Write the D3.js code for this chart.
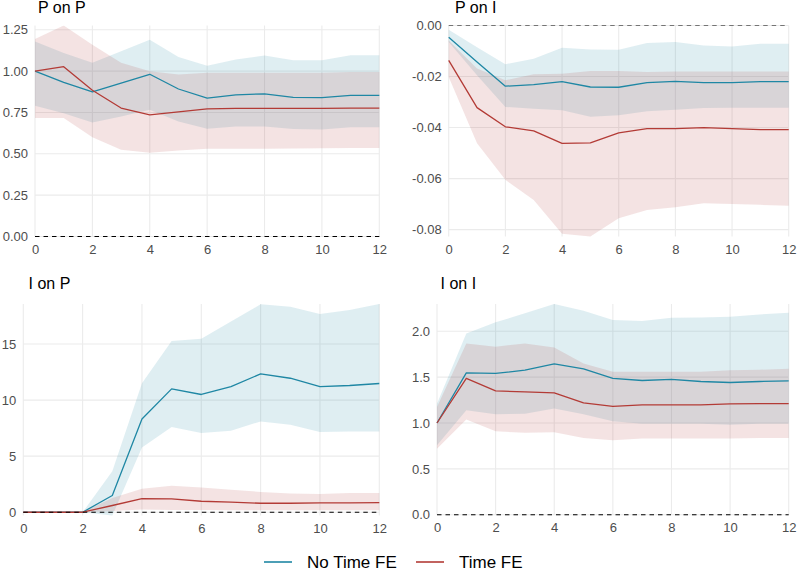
<!DOCTYPE html>
<html>
<head>
<meta charset="utf-8">
<script src="https://cdn.jsdelivr.net/npm/d3@7"></script>
<style>
  html, body { margin: 0; padding: 0; background: #ffffff; }
  svg { display: block; font-family: "Liberation Sans", Arial, Helvetica, sans-serif; }
</style>
</head>
<body>
<svg id="chart" width="797" height="571"></svg>
<script>
// ---------------- data ----------------
const horizons = [0, 1, 2, 3, 4, 5, 6, 7, 8, 9, 10, 11, 12];
const seriesNames = ["No Time FE", "Time FE"];
const panelTitles = ["P on P", "P on I", "I on P", "I on I"];
const xTicks = [0, 2, 4, 6, 8, 10, 12];
const xTickLabels = ["0", "2", "4", "6", "8", "10", "12"];

// P on P
const ppNoFE   = [1.000, 0.932, 0.874, 0.928, 0.981, 0.892, 0.837, 0.857, 0.863, 0.841, 0.840, 0.853, 0.853];
const ppNoFELo = [0.790, 0.746, 0.689, 0.726, 0.766, 0.695, 0.651, 0.665, 0.665, 0.650, 0.647, 0.660, 0.660];
const ppNoFEHi = [1.180, 1.110, 1.050, 1.120, 1.190, 1.086, 1.033, 1.070, 1.094, 1.066, 1.066, 1.096, 1.096];
const ppFE     = [1.000, 1.027, 0.884, 0.777, 0.736, 0.754, 0.772, 0.775, 0.775, 0.775, 0.775, 0.776, 0.776];
const ppFELo   = [0.716, 0.716, 0.600, 0.524, 0.507, 0.520, 0.530, 0.530, 0.530, 0.532, 0.533, 0.535, 0.535];
const ppFEHi   = [1.195, 1.276, 1.160, 1.050, 1.000, 0.980, 0.990, 0.990, 0.990, 0.990, 0.990, 0.995, 0.995];
const ppYTicks = [0, 0.25, 0.5, 0.75, 1.0, 1.25];
const ppYTickLabels = ["0.00", "0.25", "0.50", "0.75", "1.00", "1.25"];

// P on I
const piNoFE   = [-0.0046, -0.0143, -0.0238, -0.0232, -0.0220, -0.0241, -0.0242, -0.0224, -0.0219, -0.0224, -0.0224, -0.0220, -0.0220];
const piNoFELo = [-0.0065, -0.0195, -0.0319, -0.0326, -0.0332, -0.0358, -0.0352, -0.0336, -0.0330, -0.0323, -0.0322, -0.0322, -0.0322];
const piNoFEHi = [-0.0017, -0.0085, -0.0152, -0.0130, -0.0087, -0.0094, -0.0095, -0.0069, -0.0065, -0.0078, -0.0082, -0.0072, -0.0072];
const piFE     = [-0.0137, -0.0322, -0.0397, -0.0413, -0.0462, -0.0460, -0.0421, -0.0404, -0.0404, -0.0400, -0.0404, -0.0408, -0.0408];
const piFELo   = [-0.0202, -0.0462, -0.0605, -0.0684, -0.0816, -0.0827, -0.0755, -0.0723, -0.0712, -0.0697, -0.0700, -0.0703, -0.0706];
const piFEHi   = [-0.0059, -0.0169, -0.0215, -0.0191, -0.0189, -0.0178, -0.0178, -0.0182, -0.0180, -0.0180, -0.0180, -0.0180, -0.0180];
const piYTicks = [0, -0.02, -0.04, -0.06, -0.08];
const piYTickLabels = ["0.00", "-0.02", "-0.04", "-0.06", "-0.08"];

// I on P
const ipNoFE   = [0, 0, 0, 1.49, 8.31, 11.00, 10.50, 11.20, 12.34, 11.95, 11.20, 11.30, 11.48];
const ipNoFELo = [0, 0, 0, -0.30, 5.78, 7.60, 7.06, 7.27, 8.10, 7.80, 7.15, 7.20, 7.20];
const ipNoFEHi = [0, 0, 0, 3.65, 11.50, 15.28, 15.48, 17.00, 18.54, 18.33, 17.68, 18.03, 18.57];
const ipFE     = [0, 0, 0, 0.60, 1.22, 1.20, 0.98, 0.90, 0.80, 0.80, 0.83, 0.84, 0.85];
const ipFELo   = [0, 0, 0, 0.10, 0.25, 0.20, 0.20, 0.18, 0.18, 0.18, 0.18, 0.18, 0.18];
const ipFEHi   = [0, 0, 0, 1.28, 2.10, 2.37, 2.20, 2.00, 1.81, 1.66, 1.63, 1.72, 1.72];
const ipYTicks = [0, 5, 10, 15];
const ipYTickLabels = ["0", "5", "10", "15"];

// I on I
const iiNoFE   = [1.000, 1.546, 1.540, 1.575, 1.644, 1.590, 1.485, 1.463, 1.474, 1.452, 1.441, 1.452, 1.459];
const iiNoFELo = [0.757, 1.139, 1.095, 1.100, 1.157, 1.095, 1.018, 0.993, 0.993, 0.993, 0.982, 0.993, 0.993];
const iiNoFEHi = [1.210, 1.976, 2.096, 2.194, 2.296, 2.222, 2.121, 2.110, 2.147, 2.150, 2.157, 2.183, 2.200];
const iiFE     = [1.000, 1.485, 1.350, 1.339, 1.328, 1.218, 1.182, 1.197, 1.197, 1.197, 1.208, 1.211, 1.211];
const iiFELo   = [0.720, 1.037, 0.909, 0.895, 0.900, 0.836, 0.811, 0.830, 0.830, 0.830, 0.830, 0.836, 0.836];
const iiFEHi   = [1.175, 1.867, 1.830, 1.867, 1.823, 1.648, 1.557, 1.557, 1.557, 1.557, 1.575, 1.580, 1.590];
const iiYTicks = [0, 0.5, 1.0, 1.5, 2.0];
const iiYTickLabels = ["0.0", "0.5", "1.0", "1.5", "2.0"];

// ---------------- styling / layout ----------------
const colors = { "No Time FE": "#1f87a4", "Time FE": "#b33b36" };
const ribbonOpacity = 0.14;

const panels = [
  { title: panelTitles[0], est: [ppNoFE, ppFE], lo: [ppNoFELo, ppFELo], hi: [ppNoFEHi, ppFEHi], yTicks: ppYTicks, yLabels: ppYTickLabels,
    left: 35, right: 379.3, top: 25.5, bottom: 236.5, titleX: 38, titleY: 13 },
  { title: panelTitles[1], est: [piNoFE, piFE], lo: [piNoFELo, piFELo], hi: [piNoFEHi, piFEHi], yTicks: piYTicks, yLabels: piYTickLabels,
    left: 448.7, right: 788.7, top: 25.5, bottom: 236.5, titleX: 455, titleY: 13 },
  { title: panelTitles[2], est: [ipNoFE, ipFE], lo: [ipNoFELo, ipFELo], hi: [ipNoFEHi, ipFEHi], yTicks: ipYTicks, yLabels: ipYTickLabels,
    left: 23.3, right: 379.3, top: 304, bottom: 515.6, titleX: 28.5, titleY: 289.3 },
  { title: panelTitles[3], est: [iiNoFE, iiFE], lo: [iiNoFELo, iiFELo], hi: [iiNoFEHi, iiFEHi], yTicks: iiYTicks, yLabels: iiYTickLabels,
    left: 437, right: 788.7, top: 304, bottom: 514.8, titleX: 440.5, titleY: 289.3 }
];

const svg = d3.select("#chart");
svg.append("rect").attr("width", 797).attr("height", 571).attr("fill", "#ffffff");

panels.forEach((p, pi) => {
  const allVals = [0].concat(...p.lo, ...p.hi, ...p.est);
  const x = d3.scaleLinear().domain(d3.extent(horizons)).range([p.left, p.right]);
  const y = d3.scaleLinear().domain(d3.extent(allVals)).range([p.bottom, p.top]);

  const g = svg.append("g");

  const clipId = "clip" + pi;
  svg.append("clipPath").attr("id", clipId).append("rect")
    .attr("x", p.left - 1).attr("y", p.top).attr("width", p.right - p.left + 2).attr("height", p.bottom - p.top + 1.5);

  // grid
  g.append("g").selectAll("line").data(xTicks).join("line")
    .attr("x1", d => x(d)).attr("x2", d => x(d))
    .attr("y1", p.top).attr("y2", p.bottom)
    .attr("stroke", "#ebebeb").attr("stroke-width", 1.1);
  g.append("g").selectAll("line").data(p.yTicks).join("line")
    .attr("x1", p.left).attr("x2", p.right)
    .attr("y1", d => y(d)).attr("y2", d => y(d))
    .attr("stroke", "#ebebeb").attr("stroke-width", 1.1);

  const plot = g.append("g").attr("clip-path", `url(#${clipId})`);

  // ribbons
  seriesNames.forEach((name, si) => {
    const area = d3.area()
      .x((d, i) => x(horizons[i]))
      .y0((d, i) => y(p.lo[si][i]))
      .y1((d, i) => y(p.hi[si][i]));
    plot.append("path").datum(horizons).attr("d", area)
      .attr("fill", colors[name]).attr("fill-opacity", ribbonOpacity).attr("stroke", "none");
  });
  // lines
  seriesNames.forEach((name, si) => {
    const line = d3.line().x((d, i) => x(horizons[i])).y((d, i) => y(p.est[si][i]));
    plot.append("path").datum(horizons).attr("d", line)
      .attr("fill", "none").attr("stroke", colors[name]).attr("stroke-width", 1.3)
      .attr("stroke-linejoin", "round");
  });
  // zero reference line
  plot.append("line")
    .attr("x1", p.left).attr("x2", p.right)
    .attr("y1", y(0)).attr("y2", y(0))
    .attr("stroke", "#000").attr("stroke-width", 1.1).attr("stroke-dasharray", "4.5,4");

  // axes
  const yAxis = d3.axisLeft(y).tickValues(p.yTicks)
    .tickFormat((d, i) => p.yLabels[i]).tickSize(0).tickPadding(7);
  const ya = g.append("g").attr("transform", `translate(${p.left},0)`).call(yAxis);
  const xAxis = d3.axisBottom(x).tickValues(xTicks)
    .tickFormat((d, i) => xTickLabels[i]).tickSize(0).tickPadding(8);
  const xa = g.append("g").attr("transform", `translate(0,${p.bottom})`).call(xAxis);
  [ya, xa].forEach(a => {
    a.select(".domain").remove();
    a.selectAll("text").attr("fill", "#4d4d4d").style("font-size", "13px")
      .style("font-family", '"Liberation Sans", Arial, sans-serif');
  });

  // title
  g.append("text").attr("x", p.titleX).attr("y", p.titleY)
    .attr("fill", "#000").style("font-size", "16px").text(p.title);
});

// legend
const legend = svg.append("g");
const legendItems = [
  { name: seriesNames[0], lx: 264, tx: 307 },
  { name: seriesNames[1], lx: 416, tx: 459 }
];
legendItems.forEach(it => {
  legend.append("line").attr("x1", it.lx).attr("x2", it.lx + 28)
    .attr("y1", 562).attr("y2", 562)
    .attr("stroke", colors[it.name]).attr("stroke-width", 1.6);
  legend.append("text").attr("x", it.tx).attr("y", 567.5)
    .attr("fill", "#000").style("font-size", "17px").text(it.name);
});
</script>
</body>
</html>
